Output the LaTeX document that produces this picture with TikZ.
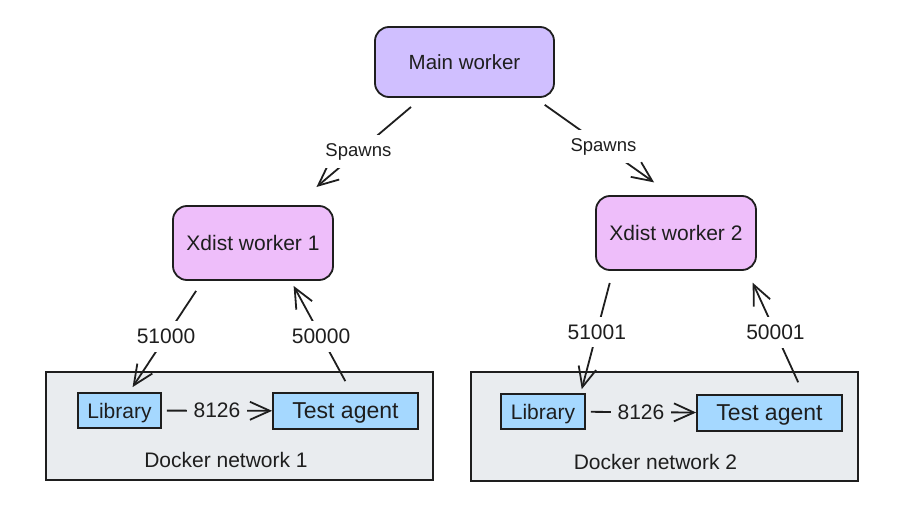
\documentclass[tikz,border=0pt]{standalone}
\usepackage{fontspec}
\setmainfont{Liberation Sans}
\usetikzlibrary{arrows.meta}
\definecolor{ink}{HTML}{1E1E1E}
\definecolor{mainfill}{HTML}{D0BFFF}
\definecolor{workfill}{HTML}{EEBEFA}
\definecolor{appfill}{HTML}{A5D8FF}
\definecolor{netfill}{HTML}{E9ECEF}
\tikzset{
  txt/.style={font=\fontsize{21}{25}\selectfont, text=ink},
  worker/.style={txt, draw=ink, line width=1.8pt, rounded corners=14pt, inner sep=0pt},
  app/.style={txt, draw=ink, line width=1.8pt, fill=appfill, inner sep=0pt, text depth=0pt},
  net/.style={draw=ink, line width=1.8pt, fill=netfill, inner sep=0pt},
  link/.style={draw=ink, line width=1.8pt, -{Straight Barb[length=20pt,width=18pt,line width=1.8pt]}},
  port/.style={txt, fill=white, inner xsep=4pt, inner ysep=8pt}
}
\begin{document}
\begin{tikzpicture}[x=1pt,y=-1pt]
\useasboundingbox (0,0) rectangle (898,506);
\node[worker, fill=mainfill, minimum width=179pt, minimum height=70pt, font=\fontsize{20.5}{25}\selectfont] (m) at (464.5,62) {Main worker};
\node[worker, fill=workfill, minimum width=160pt, minimum height=74pt] (w_1) at (253,243) {Xdist worker 1};
\node[worker, fill=workfill, minimum width=160pt, minimum height=74pt] (w_2) at (676,233) {Xdist worker 2};
\node[net, minimum width=387pt, minimum height=108pt] (d_1) at (239.5,426) {};
\node[net, minimum width=387pt, minimum height=109pt] (d_2) at (664.5,426.5) {};
\node[txt] (n_1) at (226,460) {Docker network 1};
\node[txt] (n_2) at (655.5,462) {Docker network 2};
\node[app, minimum width=83pt, minimum height=35pt] (l_1) at (119.5,410.5) {Library};
\node[app, minimum width=145pt, minimum height=36pt, font=\fontsize{23}{27}\selectfont] (t_1) at (345.5,411) {Test agent};
\node[app, minimum width=84pt, minimum height=35pt] (l_2) at (543,411.5) {Library};
\node[app, minimum width=145pt, minimum height=36pt, font=\fontsize{23}{27}\selectfont] (t_2) at (769.5,413) {Test agent};
\draw[link, shorten <=14pt, shorten >=28pt] (m.220) -- node[port, font=\fontsize{18.5}{22}\selectfont] {Spawns} (w_1.42);
\draw[link, shorten <=12pt, shorten >=22pt] (m.-27) -- node[port, font=\fontsize{18.5}{22}\selectfont] {Spawns} (w_2.96);
\draw[link, shorten <=12pt, shorten >=6pt] (w_1.217) -- node[port] {51000} (l_1.62);
\draw[link, shorten <=12.5pt, shorten >=5.7pt] (t_1.73) -- node[port] {50000} (w_1.-45);
\draw[link, shorten <=12.5pt, shorten >=4pt] (w_2.211) -- node[port] {51001} (l_2.26);
\draw[link, shorten <=13pt, shorten >=13pt] (t_2.29) -- node[port] {50001} (w_2.-28);
\draw[link, shorten <=5pt] (l_1) -- node[port, fill=netfill, inner xsep=7pt] {8126} (t_1);
\draw[link, shorten <=5pt] (l_2) -- node[port, fill=netfill, inner xsep=7pt] {8126} (t_2);
\end{tikzpicture}
\end{document}
